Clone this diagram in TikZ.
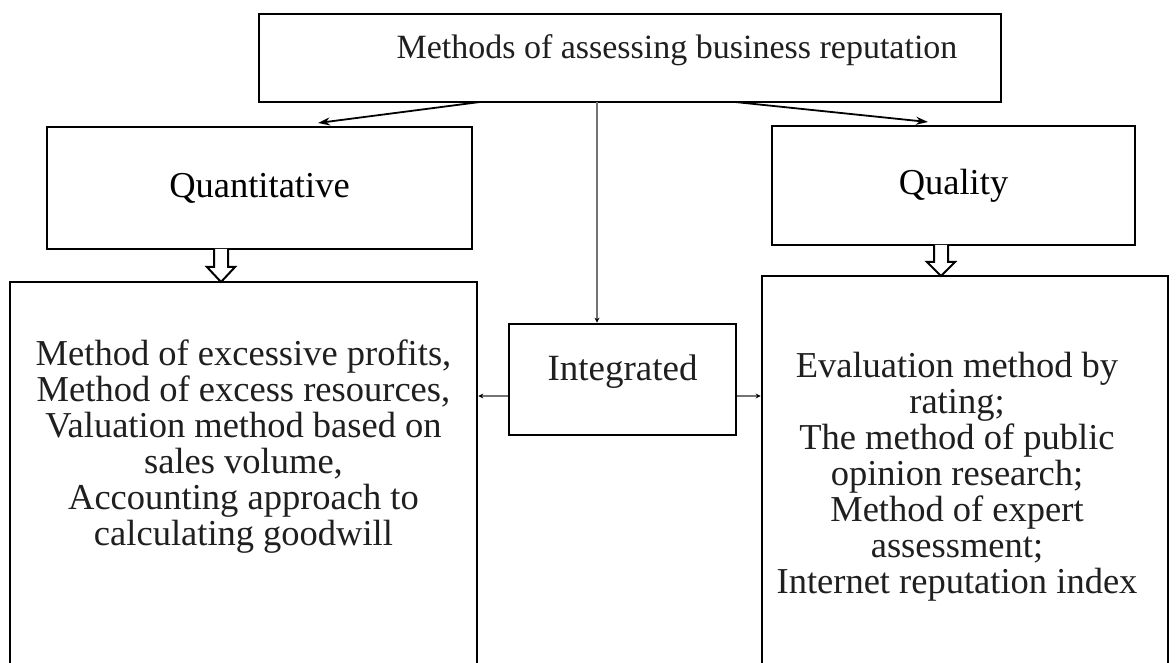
\documentclass[tikz,border=0pt]{standalone}
\usepackage{fontspec}
\setmainfont{Liberation Serif}
\usetikzlibrary{arrows.meta}
\begin{document}
\begin{tikzpicture}[x=1pt,y=-1pt,
  box/.style={draw=black,line width=2.6pt,rectangle,inner sep=0pt,fill=white},
  txt/.style={text=black!88,align=center,inner sep=0pt},
  link/.style={draw=black,line width=1.8pt,-{Stealth[length=12pt,width=8pt]}},
  thin/.style={draw=black!55,line width=1.8pt,-{Stealth[length=5pt,width=5pt,black]}},
  hollow/.style={draw=black,line width=2pt,fill=white,line join=miter}]
\useasboundingbox (0,0) rectangle (1176,663);
\fill[white] (0,0) rectangle (1176,663);
% boxes
\node[box,minimum width=742pt,minimum height=88pt] (top) at (630,58) {};
\node[txt,font=\fontsize{34}{36}\selectfont] (toptxt) at (677,50) {Methods of assessing business reputation};
\node[box,minimum width=425pt,minimum height=122pt,font=\fontsize{36.5}{36}\selectfont] (quant) at (259.5,188) {Quantitative};
\node[box,minimum width=363pt,minimum height=119pt,font=\fontsize{36.5}{36}\selectfont] (qual) at (953.5,185.5) {Quality};
\node[box,minimum width=467pt,minimum height=392pt] (left) at (243.5,478) {};
\node[box,minimum width=406pt,minimum height=398pt] (right) at (965,475) {};
\node[box,minimum width=227pt,minimum height=111pt] (integ) at (622.5,379.5) {};
\node[txt,font=\fontsize{37}{36}\selectfont] (integtxt) at (622.5,372) {Integrated};
% texts in bottom boxes
\node[txt,font=\fontsize{36.5}{36}\selectfont] (lefttxt) at (243.5,447) {Method of excessive profits,\\Method of excess resources,\\Valuation method based on\\sales volume,\\Accounting approach to\\calculating goodwill};
\node[txt,font=\fontsize{36.5}{36}\selectfont] (righttxt) at (957,477) {Evaluation method by\\rating;\\The method of public\\ opinion research;\\Method of expert\\assessment;\\Internet reputation index};
% connectors
\coordinate (tl) at (480,102);
\coordinate (tr) at (735,102);
\coordinate (tm) at (597,102);
\draw[link] (tl) -- (318,123) coordinate (ql);
\draw[link] (tr) -- (928,122) coordinate (qr);
\draw[thin] (tm) -- (tm |- integ.north);
\draw[thin] (integ.west |- 0,396) -- (left.east |- 0,396);
\draw[thin] (integ.east |- 0,396) -- (right.west |- 0,396);
% hollow block arrows
\draw[hollow] (214,249) -- (214,267) -- (207,267) -- (221,282) -- (235,267) -- (228,267) -- (228,249);
\draw[hollow] (934,245) -- (934,262) -- (927,262) -- (941,276) -- (955,262) -- (948,262) -- (948,245);
\end{tikzpicture}
\end{document}
